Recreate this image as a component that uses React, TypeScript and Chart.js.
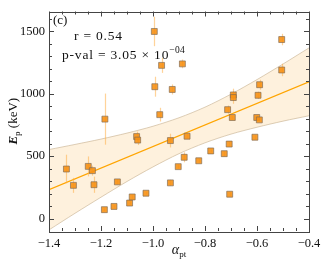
import React, { useEffect, useRef } from "react";
import { Chart, registerables } from "chart.js";
Chart.register(...registerables);

// ---- data ----
const alphaPt = [-0.995, -0.967, -0.887, -0.993, -0.926, -0.974, -1.185, -1.063, -1.059, -1.333, -1.306, -1.249, -1.233, -1.227, -1.137, -1.187, -1.15, -1.09, -1.08, -1.027, -0.933, -0.869, -0.778, -0.88, -0.824, -0.903, -0.933, -0.705, -0.608, -0.707, -0.726, -0.505, -0.505, -0.59, -0.596, -0.691, -0.691, -0.713, -0.695, -0.601, -0.591];
const peakEnergy = [1500, 1228, 1240, 1057, 1035, 833, 797, 657, 629, 397, 266, 418, 384, 271, 294, 71, 97, 124, 173, 203, 625, 660, 542, 491, 463, 416, 286, 195, 652, 597, 520, 1435, 1191, 1073, 988, 991, 970, 873, 810, 810, 791];
const energyErr = [118, 60, 35, 80, 40, 55, 205, 40, 40, 115, 60, 80, 40, 65, 20, 10, 10, 15, 15, 10, 55, 15, 10, 40, 15, 15, 25, 15, 15, 15, 20, 46, 50, 40, 30, 50, 50, 33, 15, 15, 15];

const fitX = [-1.4, -0.4];
const fitY = [231, 1096];

const bandX = [-1.4, -1.3, -1.2, -1.1, -1.0, -0.9, -0.8, -0.7, -0.6, -0.5, -0.4];
const bandUpper = [553, 594, 637, 685, 740, 808, 893, 997, 1114, 1239, 1368];
const bandLower = [-91, 42, 171, 297, 414, 520, 607, 677, 732, 781, 824];

const xTickValues = [-1.4, -1.2, -1.0, -0.8, -0.6, -0.4];
const yTickValues = [0, 500, 1000, 1500];

const annotR = "r = 0.54";
const annotP = "p-val = 3.05 \u00d7 10";
const annotPExp = "\u221204";
const panelLabel = "(c)";

const SERIF = "'Liberation Serif', 'DejaVu Serif', serif";

type Run = { text: string; font: string; dy?: number; spacing?: number };

function drawRuns(ctx: CanvasRenderingContext2D, runs: Run[], x: number, y: number, align: "left" | "center") {
  const anyCtx = ctx as any;
  let total = 0;
  const widths = runs.map((r) => {
    ctx.font = r.font;
    anyCtx.letterSpacing = `${r.spacing || 0}px`;
    const w = ctx.measureText(r.text).width;
    total += w;
    return w;
  });
  let cx = align === "center" ? x - total / 2 : x;
  runs.forEach((r, i) => {
    ctx.font = r.font;
    anyCtx.letterSpacing = `${r.spacing || 0}px`;
    ctx.textAlign = "left";
    ctx.textBaseline = "alphabetic";
    ctx.fillText(r.text, cx, y + (r.dy || 0));
    cx += widths[i];
  });
  anyCtx.letterSpacing = "0px";
}

const decorPlugin = {
  id: "decor",
  beforeDatasetDraw(chart: any, args: any) {
    if (args.index !== 3) return;
    const ctx = chart.ctx as CanvasRenderingContext2D;
    const xs = chart.scales.x;
    const ys = chart.scales.y;
    ctx.save();
    ctx.strokeStyle = "rgba(255,175,70,0.55)";
    ctx.lineWidth = 1.2;
    for (let i = 0; i < alphaPt.length; i++) {
      const px = Math.round(xs.getPixelForValue(alphaPt[i])) + 0.5;
      ctx.beginPath();
      ctx.moveTo(px, ys.getPixelForValue(peakEnergy[i] - energyErr[i]));
      ctx.lineTo(px, ys.getPixelForValue(peakEnergy[i] + energyErr[i]));
      ctx.stroke();
    }
    ctx.restore();
  },
  afterDraw(chart: any) {
    const ctx = chart.ctx as CanvasRenderingContext2D;
    const { left, right, top, bottom } = chart.chartArea;
    const xs = chart.scales.x;
    const ys = chart.scales.y;
    ctx.save();
    ctx.strokeStyle = "#444";
    ctx.lineWidth = 1;
    ctx.strokeRect(Math.round(left) + 0.5, Math.round(top) + 0.5, Math.round(right - left), Math.round(bottom - top));
    // x ticks (inward, top and bottom)
    const xmin = xs.min, xmax = xs.max;
    const nx = Math.round((xmax - xmin) / 0.05);
    for (let k = 0; k <= nx; k++) {
      const v = xmin + k * 0.05;
      const major = k % 4 === 0;
      const len = major ? 5 : 3;
      const px = Math.round(xs.getPixelForValue(v)) + 0.5;
      ctx.beginPath();
      ctx.moveTo(px, bottom);
      ctx.lineTo(px, bottom - len);
      ctx.moveTo(px, top);
      ctx.lineTo(px, top + len);
      ctx.stroke();
    }
    // y ticks (inward, left and right)
    for (let v = 0; v <= ys.max; v += 100) {
      const major = v % 500 === 0;
      const len = major ? 5 : 3;
      const py = Math.round(ys.getPixelForValue(v)) + 0.5;
      ctx.beginPath();
      ctx.moveTo(left, py);
      ctx.lineTo(left + len, py);
      ctx.moveTo(right, py);
      ctx.lineTo(right - len, py);
      ctx.stroke();
    }
    ctx.fillStyle = "#111";
    // annotations
    drawRuns(ctx, [{ text: panelLabel, font: `13px ${SERIF}` }], left + 4, top + 12, "left");
    drawRuns(ctx, [{ text: annotR, font: `13.5px ${SERIF}`, spacing: 0.8 }], 74, 40, "left");
    drawRuns(
      ctx,
      [
        { text: annotP, font: `13.5px ${SERIF}`, spacing: 0.8 },
        { text: annotPExp, font: `9.5px ${SERIF}`, dy: -6, spacing: 0.4 },
      ],
      62,
      59,
      "left"
    );
    // x title
    drawRuns(
      ctx,
      [
        { text: "\u03b1", font: `italic 14px ${SERIF}` },
        { text: "pt", font: `9px ${SERIF}`, dy: 3 },
      ],
      (left + right) / 2,
      254,
      "center"
    );
    // y title
    ctx.save();
    ctx.translate(17, (top + bottom) / 2);
    ctx.rotate(-Math.PI / 2);
    drawRuns(
      ctx,
      [
        { text: "E", font: `italic bold 13px ${SERIF}` },
        { text: "p", font: `9px ${SERIF}`, dy: 3 },
        { text: " (keV)", font: `13px ${SERIF}` },
      ],
      0,
      0,
      "center"
    );
    ctx.restore();
    ctx.restore();
  },
};

export default function App() {
  const ref = useRef<HTMLCanvasElement | null>(null);
  useEffect(() => {
    if (!ref.current) return;
    const chart = new Chart(ref.current, {
      type: "scatter",
      data: {
        datasets: [
          {
            type: "line",
            data: bandX.map((x, i) => ({ x, y: bandUpper[i] })),
            borderColor: "rgba(205,185,155,0.7)",
            borderWidth: 1,
            backgroundColor: "rgba(253,210,150,0.32)",
            pointRadius: 0,
            fill: "+1",
            tension: 0.3,
            order: 5,
          } as any,
          {
            type: "line",
            data: bandX.map((x, i) => ({ x, y: bandLower[i] })),
            borderColor: "rgba(205,185,155,0.7)",
            borderWidth: 1,
            pointRadius: 0,
            fill: false,
            tension: 0.3,
            order: 4,
          } as any,
          {
            type: "line",
            data: fitX.map((x, i) => ({ x, y: fitY[i] })),
            borderColor: "#FFA500",
            borderWidth: 1.2,
            pointRadius: 0,
            fill: false,
            order: 3,
          } as any,
          {
            type: "scatter",
            data: alphaPt.map((x, i) => ({ x, y: peakEnergy[i] })),
            pointStyle: "rect",
            pointRadius: 4.2,
            backgroundColor: "rgba(247,145,20,0.9)",
            borderColor: "rgba(125,105,85,0.65)",
            borderWidth: 1,
            order: 1,
          } as any,
        ],
      },
      options: {
        responsive: false,
        animation: false,
        events: [],
        layout: { padding: { left: 0, right: 21, top: 7, bottom: 0 } },
        plugins: { legend: { display: false }, tooltip: { enabled: false } },
        scales: {
          x: {
            type: "linear",
            min: -1.4,
            max: -0.4,
            grid: { display: false, drawTicks: false },
            border: { display: false },
            afterBuildTicks: (s: any) => {
              s.ticks = xTickValues.map((value) => ({ value }));
            },
            afterFit: (s: any) => {
              s.height = 33;
            },
            ticks: {
              padding: 5,
              color: "#111",
              font: { family: SERIF, size: 12.5 },
              maxRotation: 0,
              callback: (v: any) => {
                const n = Number(v);
                return (n < 0 ? "\u2212" : "") + Math.abs(n).toFixed(1);
              },
            },
          },
          y: {
            type: "linear",
            min: -100,
            max: 1660,
            grid: { display: false, drawTicks: false },
            border: { display: false },
            afterBuildTicks: (s: any) => {
              s.ticks = yTickValues.map((value) => ({ value }));
            },
            afterFit: (s: any) => {
              s.width = 49;
            },
            ticks: {
              padding: 4,
              color: "#111",
              font: { family: SERIF, size: 12.5 },
              callback: (v: any) => String(v),
            },
          },
        },
      },
      plugins: [decorPlugin],
    });
    return () => chart.destroy();
  }, []);
  return (
    <div style={{ position: "fixed", left: 0, top: 0, width: 330, height: 264, background: "#fff" }}>
      <canvas ref={ref} width={330} height={264} style={{ display: "block" }} />
    </div>
  );
}
